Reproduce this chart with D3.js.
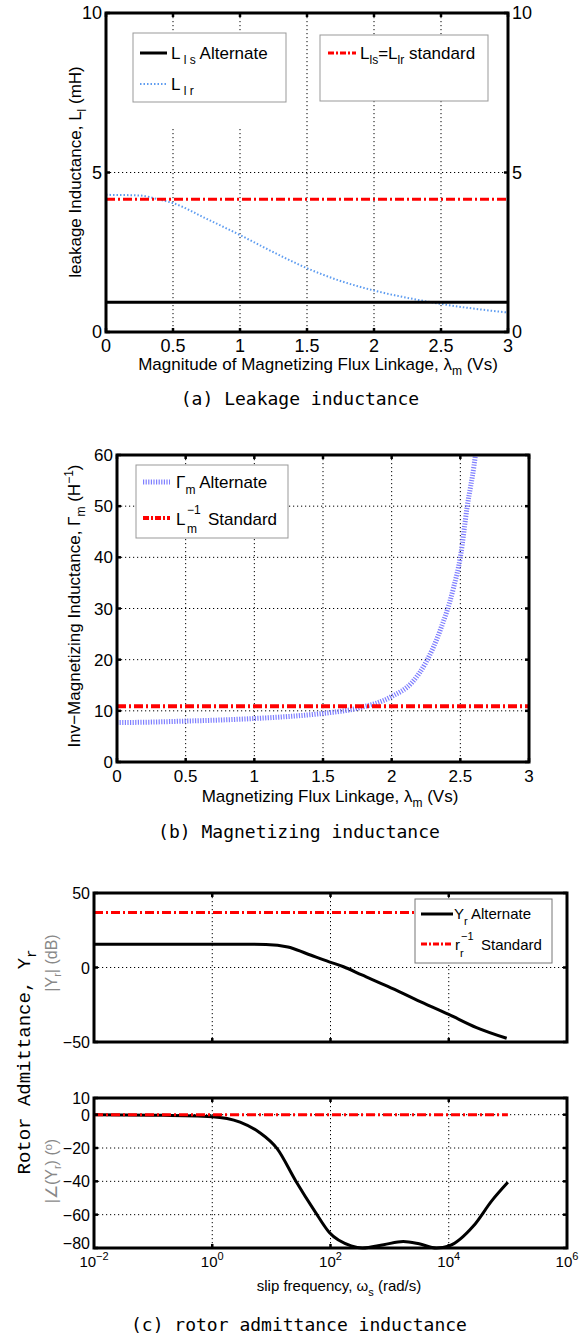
<!DOCTYPE html>
<html>
<head>
<meta charset="utf-8">
<script src="https://cdn.jsdelivr.net/npm/d3@7"></script>
<style>
  body { margin: 0; background: #fff; }
  text { font-family: Arial, "Liberation Sans", sans-serif; fill: #000; }
</style>
</head>
<body>
<svg id="chart" width="581" height="1338"></svg>
<script>
// DATA
// (a) leakage inductance vs flux linkage
const lambda_a = [0, 0.25, 0.4, 0.5, 0.75, 1, 1.25, 1.5, 1.75, 2, 2.25, 2.5, 2.75, 3]
const Llr_alt = [4.3, 4.28, 4.15, 4.04, 3.55, 3.04, 2.5, 2.0, 1.6, 1.3, 1.07, 0.88, 0.73, 0.61]
const Lls_alt = [0.93, 0.93]
const Ll_std = [4.16, 4.16]
const lambda_ends = [0, 3]
const xticks_a = [0, 0.5, 1, 1.5, 2, 2.5, 3]
const yticks_a = [0, 5, 10]

// (b) inverse magnetizing inductance
const lambda_b = [0, 0.25, 0.5, 0.75, 1, 1.25, 1.5, 1.75, 2, 2.15, 2.25, 2.35, 2.45, 2.5, 2.55, 2.6, 2.61]
const Gm_alt = [7.7, 7.8, 8.0, 8.2, 8.5, 8.9, 9.5, 10.5, 12.8, 15.6, 19.5, 25.5, 34, 40, 49.9, 58, 60]
const Lm_inv_std = [10.9, 10.9]
const xticks_b = [0, 0.5, 1, 1.5, 2, 2.5, 3]
const yticks_b = [0, 10, 20, 30, 40, 50, 60]

// (c) rotor admittance bode
const w_mag = [1e-2, 1e-1, 1, 3.16, 8.1, 19, 39, 95, 166, 339, 933, 2950, 1e4, 29500, 95500]
const Yr_mag = [15.6, 15.6, 15.6, 15.6, 15.4, 13.8, 9.4, 3.8, 0.5, -5.0, -12.7, -22, -31.5, -40.3, -47.5]
const w_ph = [1e-2, 1e-1, 1, 2.95, 6.2, 12.6, 25.7, 53.7, 95.5, 224, 347, 794, 1700, 3160, 6170, 1.02e4, 2.63e4, 5.37e4, 1e5]
const Yr_ph = [0, -0.3, -1.2, -4.5, -10.5, -20.5, -39.6, -57.7, -70.7, -78.7, -80, -78, -76.1, -77.5, -80, -78.7, -66.7, -51.6, -40.6]
const rr_inv_mag = [36.9, 36.9]
const rr_inv_ph = [0, 0]
const w_ends = [1e-2, 1e5]
const xticks_c = [1e-2, 1e0, 1e2, 1e4, 1e6]
const xexp_c = ["\u22122", "0", "2", "4", "6"]
const yticks_mag = [-50, 0, 50]
const yticks_ph = [-80, -60, -40, -20, 0, 10]

const svg = d3.select("#chart")
svg.append("rect").attr("width", 581).attr("height", 1338).attr("fill", "#fff")

const dashdot = "9,3,2,3"

// dotted grid inside a box
function drawBox(g, x, y, xgrid, ygrid) {
  const [x0, x1] = x.range()
  const [y1, y0] = y.range()
  g.selectAll(".vgrid").data(xgrid).enter().append("line")
   .attr("x1", d => x(d)).attr("x2", d => x(d))
   .attr("y1", y0).attr("y2", y1)
   .attr("stroke", "#000").attr("stroke-width", 1).attr("stroke-dasharray", "1.2,2.8")
  g.selectAll(".hgrid").data(ygrid).enter().append("line")
   .attr("x1", x0).attr("x2", x1)
   .attr("y1", d => y(d)).attr("y2", d => y(d))
   .attr("stroke", "#000").attr("stroke-width", 1).attr("stroke-dasharray", "1.2,2.8")
}
// matlab style frame with inward ticks
function drawFrame(g, x, y, xt, yt) {
  const [x0, x1] = x.range()
  const [y1, y0] = y.range()
  xt.forEach(d => {
    g.append("line").attr("x1", x(d)).attr("x2", x(d)).attr("y1", y1).attr("y2", y1 - 4)
     .attr("stroke", "#000").attr("stroke-width", 2.5)
    g.append("line").attr("x1", x(d)).attr("x2", x(d)).attr("y1", y0).attr("y2", y0 + 4)
     .attr("stroke", "#000").attr("stroke-width", 2.5)
  })
  yt.forEach(d => {
    g.append("line").attr("x1", x0).attr("x2", x0 + 4).attr("y1", y(d)).attr("y2", y(d))
     .attr("stroke", "#000").attr("stroke-width", 2.5)
    g.append("line").attr("x1", x1).attr("x2", x1 - 4).attr("y1", y(d)).attr("y2", y(d))
     .attr("stroke", "#000").attr("stroke-width", 2.5)
  })
  g.append("rect").attr("x", x0).attr("y", y0).attr("width", x1 - x0).attr("height", y1 - y0)
   .attr("fill", "none").attr("stroke", "#000").attr("stroke-width", 3)
}

// ---------------- PANEL A ----------------
const xa = d3.scaleLinear().domain([0, 3]).range([106, 508])
const ya = d3.scaleLinear().domain([0, 10]).range([332, 13])
const ga = svg.append("g")
drawBox(ga, xa, ya, [0.5, 1, 1.5, 2, 2.5], [5])

// legends cover the grid
ga.append("rect").attr("x", 133).attr("y", 33).attr("width", 153).attr("height", 95).attr("fill", "#fff")
ga.append("rect").attr("x", 320).attr("y", 35).attr("width", 168).attr("height", 66)
  .attr("fill", "#fff").attr("stroke", "#999").attr("stroke-width", 1)
ga.append("rect").attr("x", 133).attr("y", 33).attr("width", 153).attr("height", 69)
  .attr("fill", "none").attr("stroke", "#999").attr("stroke-width", 1)

const line_a = d3.line().x(d => xa(d[0])).y(d => ya(d[1])).curve(d3.curveMonotoneX)
ga.append("path").datum(lambda_a.map((d, i) => [d, Llr_alt[i]]))
  .attr("d", line_a).attr("fill", "none").attr("stroke", "#5e9cf0")
  .attr("stroke-width", 2).attr("stroke-dasharray", "1.5,2")
ga.append("path").datum(lambda_ends.map((d, i) => [d, Lls_alt[i]]))
  .attr("d", line_a).attr("fill", "none").attr("stroke", "#000").attr("stroke-width", 3)
ga.append("path").datum(lambda_ends.map((d, i) => [d, Ll_std[i]]))
  .attr("d", line_a).attr("fill", "none").attr("stroke", "#f00")
  .attr("stroke-width", 3).attr("stroke-dasharray", dashdot)
drawFrame(ga, xa, ya, xticks_a, yticks_a)

// tick labels
ga.selectAll(".xl").data(xticks_a).enter().append("text")
  .attr("x", d => xa(d)).attr("y", 352).attr("text-anchor", "middle").attr("font-size", 18)
  .text(d => d)
ga.selectAll(".yl").data(yticks_a).enter().append("text")
  .attr("x", 102).attr("y", d => ya(d) + 6).attr("text-anchor", "end").attr("font-size", 18)
  .text(d => d)
ga.selectAll(".yr").data(yticks_a).enter().append("text")
  .attr("x", 512).attr("y", d => ya(d) + 6).attr("font-size", 18)
  .text(d => d)

// legend entries
ga.append("line").attr("x1", 140).attr("x2", 167).attr("y1", 53).attr("y2", 53)
  .attr("stroke", "#000").attr("stroke-width", 3)
const la1 = ga.append("text").attr("x", 171).attr("y", 59).attr("font-size", 17)
la1.append("tspan").text("L")
la1.append("tspan").attr("dy", 5).attr("font-size", 12).text(" l s")
la1.append("tspan").attr("dy", -5).text(" Alternate")
ga.append("line").attr("x1", 140).attr("x2", 167).attr("y1", 84).attr("y2", 84)
  .attr("stroke", "#5e9cf0").attr("stroke-width", 2).attr("stroke-dasharray", "1.5,2")
const la2 = ga.append("text").attr("x", 171).attr("y", 90).attr("font-size", 17)
la2.append("tspan").text("L")
la2.append("tspan").attr("dy", 5).attr("font-size", 12).text(" l r")
ga.append("line").attr("x1", 328).attr("x2", 356).attr("y1", 53).attr("y2", 53)
  .attr("stroke", "#f00").attr("stroke-width", 3).attr("stroke-dasharray", "6,2,2,2")
const la3 = ga.append("text").attr("x", 360).attr("y", 59).attr("font-size", 17)
la3.append("tspan").text("L")
la3.append("tspan").attr("dy", 5).attr("font-size", 12).text("ls")
la3.append("tspan").attr("dy", -5).text("=L")
la3.append("tspan").attr("dy", 5).attr("font-size", 12).text("lr")
la3.append("tspan").attr("dy", -5).text(" standard")

// axis titles
const xta = ga.append("text").attr("x", 318).attr("y", 370).attr("text-anchor", "middle").attr("font-size", 17)
xta.append("tspan").text("Magnitude of Magnetizing Flux Linkage, \u03bb")
xta.append("tspan").attr("dy", 5).attr("font-size", 12).text("m")
xta.append("tspan").attr("dy", -5).text(" (Vs)")
const yta = ga.append("text").attr("transform", "translate(81,172) rotate(-90)")
  .attr("text-anchor", "middle").attr("font-size", 17)
yta.append("tspan").text("leakage Inductance, L")
yta.append("tspan").attr("dy", 5).attr("font-size", 12).text("l")
yta.append("tspan").attr("dy", -5).text("  (mH)")
ga.append("text").attr("x", 300).attr("y", 405).attr("text-anchor", "middle")
  .attr("font-size", 18).style("font-family", "'DejaVu Sans Mono', monospace")
  .text("(a) Leakage inductance")

// ---------------- PANEL B ----------------
const xb = d3.scaleLinear().domain([0, 3]).range([117, 529])
const yb = d3.scaleLinear().domain([0, 60]).range([762, 455])
const gb = svg.append("g")
drawBox(gb, xb, yb, [0.5, 1, 1.5, 2, 2.5], [10, 20, 30, 40, 50])
const line_b = d3.line().x(d => xb(d[0])).y(d => yb(d[1])).curve(d3.curveMonotoneX)
gb.append("path").datum(lambda_b.map((d, i) => [d, Gm_alt[i]]))
  .attr("d", line_b).attr("fill", "none").attr("stroke", "#7f7fff")
  .attr("stroke-width", 5).attr("stroke-dasharray", "1.2,1.4")
gb.append("path").datum(lambda_ends.map((d, i) => [d, Lm_inv_std[i]]))
  .attr("d", line_b).attr("fill", "none").attr("stroke", "#f00")
  .attr("stroke-width", 4).attr("stroke-dasharray", dashdot)
drawFrame(gb, xb, yb, xticks_b, yticks_b)

gb.selectAll(".xl").data(xticks_b).enter().append("text")
  .attr("x", d => xb(d)).attr("y", 782).attr("text-anchor", "middle").attr("font-size", 17)
  .text(d => d)
gb.selectAll(".yl").data(yticks_b).enter().append("text")
  .attr("x", 113).attr("y", d => yb(d) + 6).attr("text-anchor", "end").attr("font-size", 17)
  .text(d => d)

// legend
gb.append("rect").attr("x", 136).attr("y", 465).attr("width", 152).attr("height", 73)
  .attr("fill", "#fff").attr("stroke", "#999").attr("stroke-width", 1)
gb.append("line").attr("x1", 143).attr("x2", 170).attr("y1", 482).attr("y2", 482)
  .attr("stroke", "#7f7fff").attr("stroke-width", 5).attr("stroke-dasharray", "1.2,1.4")
const lb1 = gb.append("text").attr("x", 176).attr("y", 488).attr("font-size", 17)
lb1.append("tspan").text("\u0393")
lb1.append("tspan").attr("dy", 6).attr("font-size", 12).text("m")
lb1.append("tspan").attr("dy", -6).text(" Alternate")
gb.append("line").attr("x1", 143).attr("x2", 170).attr("y1", 518).attr("y2", 518)
  .attr("stroke", "#f00").attr("stroke-width", 4).attr("stroke-dasharray", "6,2,2,2")
gb.append("text").attr("x", 176).attr("y", 525).attr("font-size", 17).text("L")
gb.append("text").attr("x", 187).attr("y", 514).attr("font-size", 12).text("\u22121")
gb.append("text").attr("x", 187).attr("y", 533).attr("font-size", 12).text("m")
gb.append("text").attr("x", 208).attr("y", 525).attr("font-size", 17).text("Standard")

const xtb = gb.append("text").attr("x", 330).attr("y", 802).attr("text-anchor", "middle").attr("font-size", 17)
xtb.append("tspan").text("Magnetizing Flux Linkage, \u03bb")
xtb.append("tspan").attr("dy", 5).attr("font-size", 12).text("m")
xtb.append("tspan").attr("dy", -5).text(" (Vs)")
const ytb = gb.append("text").attr("transform", "translate(80,606) rotate(-90)")
  .attr("text-anchor", "middle").attr("font-size", 17)
ytb.append("tspan").text("Inv\u2212Magnetizing Inductance, \u0393")
ytb.append("tspan").attr("dy", 5).attr("font-size", 12).text("m")
ytb.append("tspan").attr("dy", -5).text("  (H")
ytb.append("tspan").attr("dy", -7).attr("font-size", 12).text("\u22121")
ytb.append("tspan").attr("dy", 7).text(")")
gb.append("text").attr("x", 299).attr("y", 838).attr("text-anchor", "middle")
  .attr("font-size", 18).style("font-family", "'DejaVu Sans Mono', monospace")
  .text("(b) Magnetizing inductance")

// ---------------- PANEL C ----------------
const xc = d3.scaleLog().domain([1e-2, 1e6]).range([94, 567])
const ym = d3.scaleLinear().domain([-50, 50]).range([1042, 893])
const yp = d3.scaleLinear().domain([-80, 10]).range([1248, 1098])
const gc = svg.append("g")

// magnitude
drawBox(gc, xc, ym, [1, 1e2, 1e4], [0])
const line_m = d3.line().x(d => xc(d[0])).y(d => ym(d[1])).curve(d3.curveMonotoneX)
gc.append("path").datum(w_ends.map((d, i) => [d, rr_inv_mag[i]]))
  .attr("d", line_m).attr("fill", "none").attr("stroke", "#f00")
  .attr("stroke-width", 3).attr("stroke-dasharray", dashdot)
gc.append("path").datum(w_mag.map((d, i) => [d, Yr_mag[i]]))
  .attr("d", line_m).attr("fill", "none").attr("stroke", "#000").attr("stroke-width", 3)
drawFrame(gc, xc, ym, [1, 1e2, 1e4], yticks_mag)
gc.selectAll(".ylm").data(yticks_mag).enter().append("text")
  .attr("x", 90).attr("y", d => ym(d) + 6).attr("text-anchor", "end").attr("font-size", 16)
  .text(d => d < 0 ? "\u2212" + (-d) : d)

// magnitude legend
gc.append("rect").attr("x", 415).attr("y", 899).attr("width", 137).attr("height", 64)
  .attr("fill", "#fff").attr("stroke", "#777").attr("stroke-width", 1)
gc.append("line").attr("x1", 421).attr("x2", 453).attr("y1", 914).attr("y2", 914)
  .attr("stroke", "#000").attr("stroke-width", 3)
const lc1 = gc.append("text").attr("x", 454).attr("y", 919).attr("font-size", 15)
lc1.append("tspan").text("Y")
lc1.append("tspan").attr("dy", 6).attr("font-size", 11).text("r")
lc1.append("tspan").attr("dy", -6).text("  Alternate")
gc.append("line").attr("x1", 421).attr("x2", 453).attr("y1", 944).attr("y2", 944)
  .attr("stroke", "#f00").attr("stroke-width", 3).attr("stroke-dasharray", "6,2,2,2")
gc.append("text").attr("x", 455).attr("y", 950).attr("font-size", 15).text("r")
gc.append("text").attr("x", 461).attr("y", 940).attr("font-size", 11).text("\u22121")
gc.append("text").attr("x", 460).attr("y", 957).attr("font-size", 11).text("r")
gc.append("text").attr("x", 481).attr("y", 950).attr("font-size", 15).text("Standard")

// phase
drawBox(gc, xc, yp, [1, 1e2, 1e4], [-60, -40, -20, 0])
const line_p = d3.line().x(d => xc(d[0])).y(d => yp(d[1])).curve(d3.curveMonotoneX)
gc.append("path").datum(w_ph.map((d, i) => [d, Yr_ph[i]]))
  .attr("d", line_p).attr("fill", "none").attr("stroke", "#000").attr("stroke-width", 3)
gc.append("path").datum(w_ends.map((d, i) => [d, rr_inv_ph[i]]))
  .attr("d", line_p).attr("fill", "none").attr("stroke", "#f00")
  .attr("stroke-width", 3).attr("stroke-dasharray", dashdot)
drawFrame(gc, xc, yp, [1, 1e2, 1e4], yticks_ph)
gc.selectAll(".ylp").data(yticks_ph).enter().append("text")
  .attr("x", 90).attr("y", d => yp(d) + (d == -80 ? 1 : 6)).attr("text-anchor", "end").attr("font-size", 16)
  .text(d => d < 0 ? "\u2212" + (-d) : d)

// log tick labels
xticks_c.forEach((d, i) => {
  const t = gc.append("text").attr("x", xc(d)).attr("y", 1267)
    .attr("text-anchor", "middle").attr("font-size", 15)
  t.append("tspan").text("10")
  t.append("tspan").attr("dy", -7).attr("font-size", 11).text(xexp_c[i])
})

const xtc = gc.append("text").attr("x", 339).attr("y", 1291).attr("text-anchor", "middle").attr("font-size", 15)
xtc.append("tspan").text("slip frequency, \u03c9")
xtc.append("tspan").attr("dy", 5).attr("font-size", 11).text("s")
xtc.append("tspan").attr("dy", -5).text(" (rad/s)")

const ytc = gc.append("text").attr("transform", "translate(30,1062) rotate(-90)")
  .attr("text-anchor", "middle").attr("font-size", 19)
  .style("font-family", "'Liberation Mono', 'Courier New', monospace")
ytc.append("tspan").text("Rotor Admittance, Y")
ytc.append("tspan").attr("dy", 6).attr("font-size", 14).text("r")

const ytm = gc.append("text").attr("transform", "translate(57,963) rotate(-90)")
  .attr("text-anchor", "middle").attr("font-size", 16)
ytm.append("tspan").attr("fill", "#888").text("|Y")
ytm.append("tspan").attr("fill", "#888").attr("dy", 4).attr("font-size", 11).text("r")
ytm.append("tspan").attr("fill", "#888").attr("dy", -4).text("| (dB)")
const ytp = gc.append("text").attr("transform", "translate(57,1171) rotate(-90)")
  .attr("text-anchor", "middle").attr("font-size", 16)
ytp.append("tspan").attr("fill", "#888").text("|\u2220(Y")
ytp.append("tspan").attr("fill", "#888").attr("dy", 4).attr("font-size", 11).text("r")
ytp.append("tspan").attr("fill", "#888").attr("dy", -4).text(") (")
ytp.append("tspan").attr("fill", "#888").attr("dy", -5).attr("font-size", 11).text("o")
ytp.append("tspan").attr("fill", "#888").attr("dy", 5).text(")")

gc.append("text").attr("x", 299).attr("y", 1331).attr("text-anchor", "middle")
  .attr("font-size", 18).style("font-family", "'DejaVu Sans Mono', monospace")
  .text("(c) rotor admittance inductance")
</script>
</body>
</html>
